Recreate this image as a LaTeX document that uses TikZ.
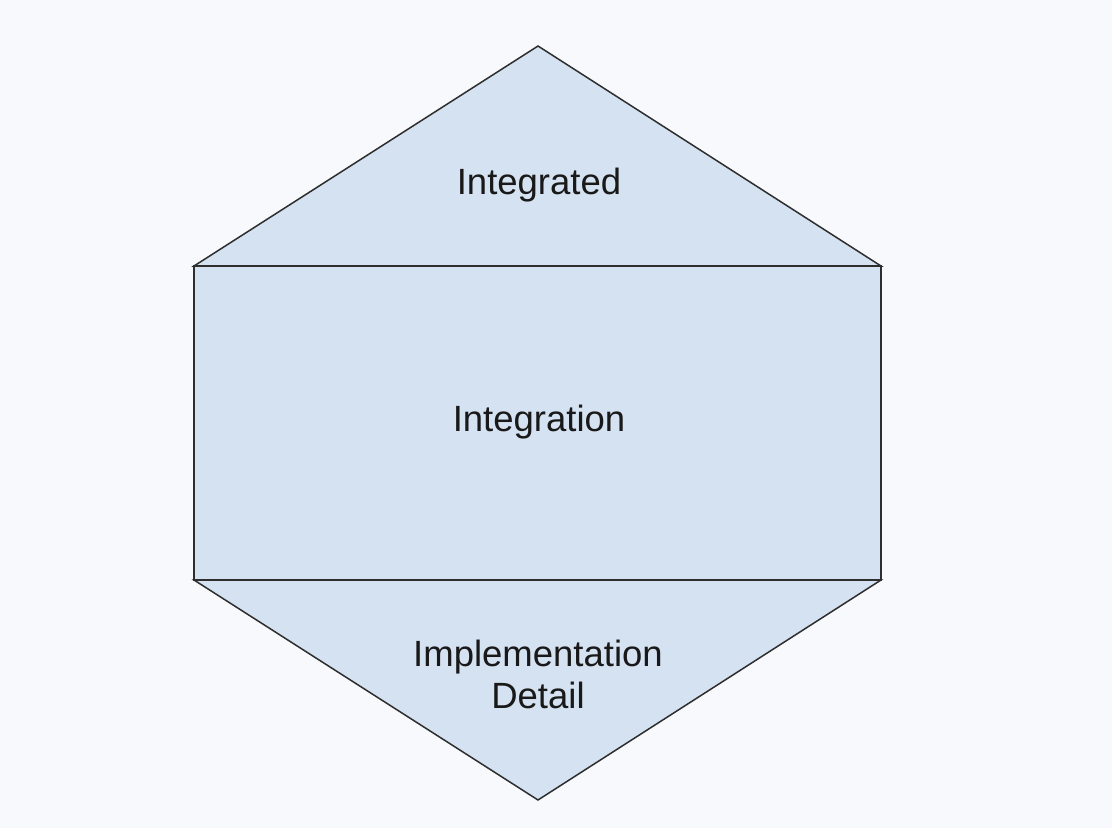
\documentclass[tikz,border=0pt]{standalone}
\usepackage{fontspec}
\setmainfont{Liberation Sans}
\definecolor{bgcol}{HTML}{F8F9FC}
\definecolor{facecol}{HTML}{D5E2F1}
\definecolor{edgecol}{HTML}{2E2E2E}
\begin{document}
\begin{tikzpicture}[x=1pt,y=-1pt,
  face/.style={fill=facecol,draw=edgecol,line width=1.5pt,line join=miter},
  lbl/.style={font=\fontsize{36.5}{42}\selectfont,text=black!90,align=center,inner sep=0pt}]
  \fill[bgcol] (0,0) rectangle (1112,828);
  \useasboundingbox (0,0) rectangle (1112,828);
  % corner points of the hexagon
  \coordinate (top) at (538,46);
  \coordinate (ul) at (194,266);
  \coordinate (ur) at (881,266);
  \coordinate (ll) at (194,580);
  \coordinate (lr) at (881,580);
  \coordinate (bot) at (538,800);
  % three stacked faces
  \draw[face] (top) -- (ur) -- (ul) -- cycle;
  \draw[face] (ul) rectangle (lr);
  \draw[face] (ll) -- (lr) -- (bot) -- cycle;
  % labels
  \node[lbl] (integrated) at (539,185) {Integrated};
  \node[lbl] (integration) at (539,422) {Integration};
  \node[lbl] (detail) at (538,674) {Implementation\\Detail};
\end{tikzpicture}
\end{document}
